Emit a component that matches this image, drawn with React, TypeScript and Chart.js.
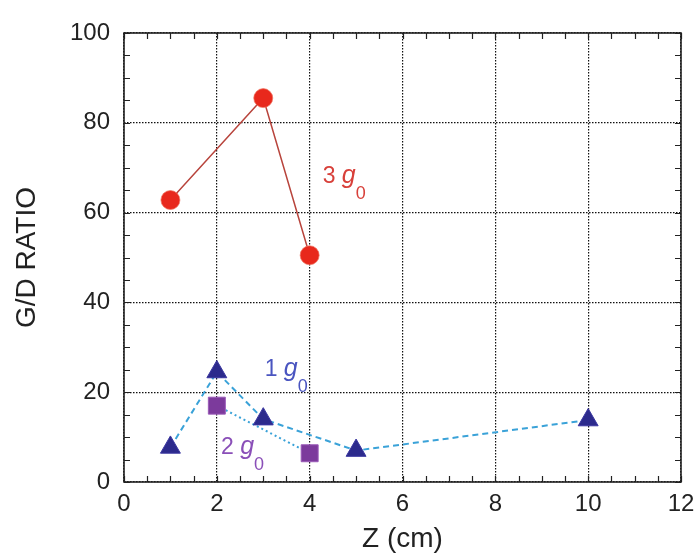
import React, { useEffect, useRef } from "react";
import { Chart, registerables } from "chart.js";

Chart.register(...registerables);

// Data
const zRed = [1, 3, 4];
const ratioRed = [62.8, 85.5, 50.5]; // 3 g0
const zBlue = [1, 2, 3, 5, 10];
const ratioBlue = [7.7, 24.5, 14, 7, 13.8]; // 1 g0
const zPurple = [2, 4];
const ratioPurple = [17, 6.4]; // 2 g0

const xTicks = [0, 2, 4, 6, 8, 10, 12];
const yTicks = [0, 20, 40, 60, 80, 100];

const labels = [
  { num: "3", x: 4.28, y: 66.7, color: "#d8403a" },
  { num: "1", x: 3.03, y: 23.5, color: "#4a55c0" },
  { num: "2", x: 2.09, y: 6.2, color: "#8a4fb8" },
];

const FONT = "'Liberation Sans', Arial, Helvetica, sans-serif";

const decorPlugin = {
  id: "decor",
  afterDraw(chart: any) {
    const { ctx, chartArea } = chart;
    const xs = chart.scales.x;
    const ys = chart.scales.y;
    const { left, right, top, bottom } = chartArea;
    ctx.save();
    ctx.strokeStyle = "#222";
    ctx.lineWidth = 1.2;
    // minor ticks
    for (let v = 0; v <= 12; v += 0.5) {
      const px = Math.round(xs.getPixelForValue(v)) + 0.5;
      ctx.beginPath();
      ctx.moveTo(px, bottom);
      ctx.lineTo(px, bottom - 6);
      ctx.moveTo(px, top);
      ctx.lineTo(px, top + 6);
      ctx.stroke();
    }
    for (let v = 0; v <= 100; v += 5) {
      const py = Math.round(ys.getPixelForValue(v)) + 0.5;
      ctx.beginPath();
      ctx.moveTo(left, py);
      ctx.lineTo(left + 6, py);
      ctx.moveTo(right, py);
      ctx.lineTo(right - 6, py);
      ctx.stroke();
    }
    // frame
    ctx.lineWidth = 1.6;
    ctx.strokeRect(left, top, right - left, bottom - top);
    // annotations
    for (const l of labels) {
      const px = xs.getPixelForValue(l.x);
      const py = ys.getPixelForValue(l.y);
      ctx.fillStyle = l.color;
      ctx.textBaseline = "alphabetic";
      ctx.textAlign = "left";
      ctx.font = `23px ${FONT}`;
      ctx.fillText(l.num, px, py);
      const w1 = ctx.measureText(l.num + " ").width;
      ctx.font = `italic 25px ${FONT}`;
      ctx.fillText("g", px + w1, py);
      const w2 = ctx.measureText("g").width;
      ctx.font = `18px ${FONT}`;
      ctx.fillText("0", px + w1 + w2, py + 16);
    }
    ctx.restore();
  },
};

export default function App() {
  const ref = useRef<HTMLCanvasElement>(null);
  useEffect(() => {
    document.body.style.margin = "0";
    const canvas = ref.current!;
    const chart = new Chart(canvas, {
      type: "scatter",
      data: {
        datasets: [
          {
            label: "3 g0",
            data: zRed.map((x, i) => ({ x, y: ratioRed[i] })),
            showLine: true,
            borderColor: "#b8443c",
            borderWidth: 1.5,
            pointStyle: "circle",
            pointRadius: 9.5,
            pointBackgroundColor: "#e8281c",
            pointBorderColor: "rgba(240,120,100,0.7)",
            pointBorderWidth: 1,
          },
          {
            label: "1 g0",
            data: zBlue.map((x, i) => ({ x, y: ratioBlue[i] })),
            showLine: true,
            borderColor: "#3aa2d8",
            borderWidth: 2,
            borderDash: [6, 4],
            pointStyle: "triangle",
            pointRadius: 11.5,
            pointBackgroundColor: "#2c2a8c",
            pointBorderColor: "#3a36a0",
            pointBorderWidth: 1,
          },
          {
            label: "2 g0",
            data: zPurple.map((x, i) => ({ x, y: ratioPurple[i] })),
            showLine: true,
            borderColor: "#3aa2d8",
            borderWidth: 2,
            borderDash: [2, 3],
            pointStyle: "rect",
            pointRadius: 12,
            pointBackgroundColor: "#7c3a9c",
            pointBorderColor: "#9a5ab8",
            pointBorderWidth: 1,
          },
        ],
      },
      options: {
        animation: false,
        responsive: false,
        maintainAspectRatio: false,
        layout: { padding: { top: 33, right: 14, left: 0, bottom: 0 } },
        plugins: { legend: { display: false }, tooltip: { enabled: false } },
        scales: {
          x: {
            type: "linear",
            min: 0,
            max: 12,
            afterBuildTicks: (s: any) => {
              s.ticks = xTicks.map((v) => ({ value: v }));
            },
            afterFit: (s: any) => {
              s.height = 74;
              s.paddingLeft = 0;
              s.paddingRight = 0;
            },
            ticks: {
              padding: 8,
              color: "#222",
              font: { family: FONT, size: 24 },
            },
            grid: { color: "#111", lineWidth: 1.2, drawTicks: false },
            border: { display: false, dash: [1.5, 1.5] },
            title: {
              display: true,
              text: "Z (cm)",
              color: "#222",
              font: { family: FONT, size: 28 },
              padding: { top: 0, bottom: 0 },
            },
          },
          y: {
            type: "linear",
            min: 0,
            max: 100,
            afterBuildTicks: (s: any) => {
              s.ticks = yTicks.map((v) => ({ value: v }));
            },
            afterFit: (s: any) => {
              s.width = 124;
              s.paddingTop = 0;
              s.paddingBottom = 0;
            },
            ticks: {
              padding: 14,
              color: "#222",
              font: { family: FONT, size: 24 },
            },
            grid: { color: "#111", lineWidth: 1.2, drawTicks: false },
            border: { display: false, dash: [1.5, 1.5] },
            title: {
              display: true,
              text: "G/D RATIO",
              color: "#222",
              font: { family: FONT, size: 28 },
              padding: { top: 10, bottom: 0 },
            },
          },
        },
      },
      plugins: [decorPlugin],
    });
    return () => chart.destroy();
  }, []);
  return (
    <div style={{ width: 695, height: 556, background: "#fff" }}>
      <canvas ref={ref} width={695} height={556} style={{ display: "block" }} />
    </div>
  );
}
